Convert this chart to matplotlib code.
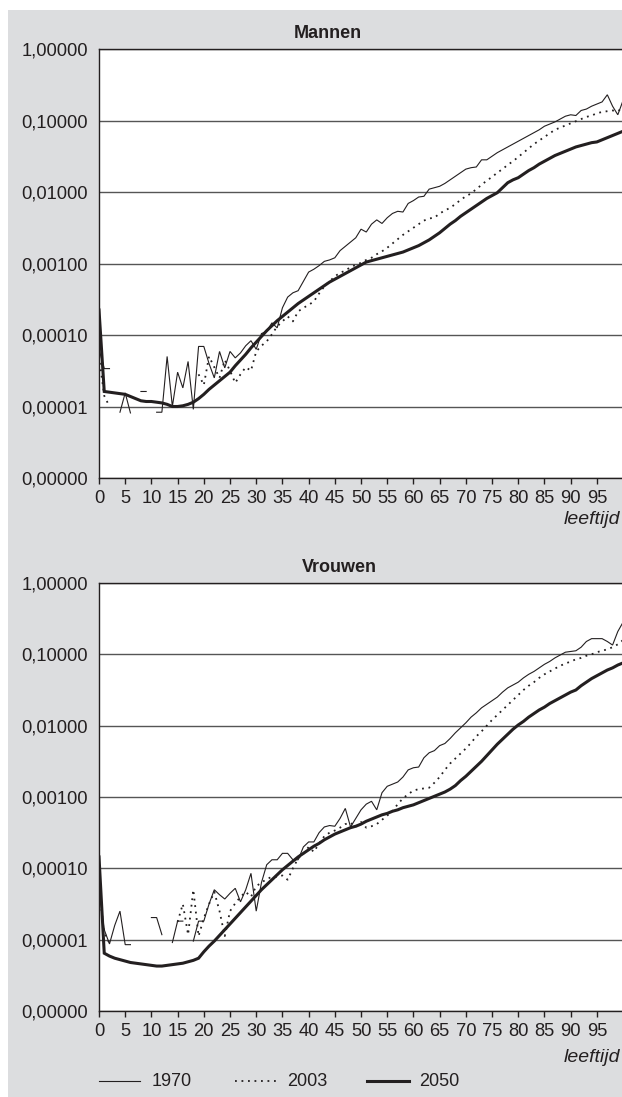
import matplotlib
matplotlib.use("Agg")
import matplotlib.pyplot as plt
import numpy as np
from matplotlib.lines import Line2D
from matplotlib.patches import Rectangle
from matplotlib.ticker import FixedLocator, FuncFormatter, NullLocator

nan = np.nan

# ages 0..100; values are log10 of the death rate
AGES = np.arange(0, 101)

MEN_1970 = [
    -4.20, -4.47, -4.47, nan, -5.08, -4.81, -5.09, nan, -4.79, -4.79,
    nan, -5.08, -5.08, -4.30, -5.00, -4.52, -4.74, -4.37, -5.04, -4.16,
    -4.16, -4.40, -4.60, -4.23, -4.46, -4.23, -4.32, -4.25, -4.15, -4.08,
    -4.20, -3.98, -3.95, -3.83, -3.90, -3.62, -3.47, -3.41, -3.38, -3.25,
    -3.12, -3.08, -3.03, -2.97, -2.95, -2.92, -2.82, -2.76, -2.70, -2.64,
    -2.52, -2.56, -2.45, -2.39, -2.44, -2.36, -2.30, -2.27, -2.28, -2.16,
    -2.12, -2.07, -2.06, -1.96, -1.94, -1.92, -1.88, -1.83, -1.78, -1.73,
    -1.68, -1.66, -1.65, -1.55, -1.55, -1.50, -1.45, -1.41, -1.37, -1.33,
    -1.29, -1.25, -1.21, -1.17, -1.13, -1.08, -1.05, -1.02, -0.98, -0.94,
    -0.92, -0.93, -0.86, -0.84, -0.80, -0.77, -0.74, -0.64, -0.80, -0.92,
    -0.72,
]
MEN_2003 = [
    -4.30, -4.85, -5.00, nan, nan, nan, nan, nan, nan, nan,
    nan, nan, nan, nan, nan, nan, nan, nan, nan, -4.55,
    -4.70, -4.30, -4.45, -4.60, -4.35, -4.50, -4.67, -4.55, -4.45, -4.50,
    -4.23, -4.15, -4.09, -3.99, -3.88, -3.81, -3.74, -3.81, -3.67, -3.62,
    -3.58, -3.53, -3.42, -3.32, -3.25, -3.18, -3.13, -3.10, -3.05, -3.02,
    -2.99, -2.95, -2.92, -2.87, -2.83, -2.78, -2.72, -2.66, -2.60, -2.55,
    -2.50, -2.45, -2.40, -2.37, -2.36, -2.30, -2.26, -2.22, -2.17, -2.11,
    -2.06, -2.02, -1.96, -1.90, -1.84, -1.79, -1.73, -1.68, -1.62, -1.57,
    -1.51, -1.45, -1.39, -1.33, -1.28, -1.23, -1.18, -1.13, -1.10, -1.07,
    -1.04, -1.01, -0.98, -0.95, -0.93, -0.90, -0.88, -0.87, -0.86, -0.87,
    -0.82,
]
MEN_2050 = [
    -3.65, -4.79, -4.80, -4.81, -4.82, -4.83, -4.86, -4.89, -4.92, -4.93,
    -4.93, -4.94, -4.95, -4.97, -5.00, -5.00, -4.99, -4.97, -4.94, -4.89,
    -4.83, -4.76, -4.70, -4.64, -4.58, -4.52, -4.43, -4.35, -4.27, -4.18,
    -4.10, -4.02, -3.94, -3.87, -3.80, -3.74, -3.68, -3.62, -3.56, -3.51,
    -3.46, -3.41, -3.36, -3.31, -3.26, -3.22, -3.18, -3.14, -3.10, -3.06,
    -3.02, -2.98, -2.96, -2.94, -2.92, -2.90, -2.88, -2.86, -2.84, -2.81,
    -2.78, -2.75, -2.71, -2.67, -2.62, -2.57, -2.51, -2.45, -2.40, -2.34,
    -2.29, -2.24, -2.19, -2.14, -2.09, -2.05, -2.01, -1.94, -1.87, -1.83,
    -1.80, -1.75, -1.70, -1.66, -1.61, -1.57, -1.53, -1.49, -1.46, -1.43,
    -1.40, -1.37, -1.35, -1.33, -1.31, -1.30, -1.27, -1.24, -1.21, -1.18,
    -1.15,
]

WOMEN_1970 = [
    -4.30, -4.86, -5.06, -4.80, -4.60, -5.07, -5.07, nan, nan, nan,
    -4.69, -4.69, -4.93, nan, -5.04, -4.74, -4.74, nan, -5.02, -4.74,
    -4.74, -4.50, -4.30, -4.37, -4.43, -4.35, -4.28, -4.47, -4.30, -4.07,
    -4.60, -4.20, -3.95, -3.88, -3.88, -3.79, -3.79, -3.88, -3.88, -3.70,
    -3.63, -3.63, -3.50, -3.42, -3.40, -3.41, -3.30, -3.16, -3.42, -3.30,
    -3.18, -3.10, -3.06, -3.18, -2.94, -2.85, -2.82, -2.79, -2.72, -2.62,
    -2.59, -2.58, -2.45, -2.38, -2.35, -2.28, -2.25, -2.18, -2.10, -2.03,
    -1.96, -1.88, -1.82, -1.75, -1.70, -1.65, -1.60, -1.53, -1.47, -1.43,
    -1.39, -1.33, -1.28, -1.24, -1.19, -1.14, -1.10, -1.05, -1.01, -0.97,
    -0.96, -0.95, -0.90, -0.82, -0.78, -0.78, -0.78, -0.82, -0.87, -0.68,
    -0.55,
]
WOMEN_2003 = [
    -4.30, -4.90, -5.05, nan, nan, nan, nan, nan, nan, nan,
    nan, nan, nan, nan, nan, -4.75, -4.50, -4.93, -4.30, -4.95,
    -4.70, -4.50, -4.33, -4.60, -4.95, -4.60, -4.49, -4.40, -4.33, -4.40,
    -4.25, -4.20, -4.15, -4.12, -4.12, -4.10, -4.16, -4.00, -3.86, -3.80,
    -3.70, -3.77, -3.65, -3.55, -3.50, -3.47, -3.43, -3.38, -3.36, -3.42,
    -3.35, -3.43, -3.41, -3.38, -3.32, -3.26, -3.20, -3.10, -3.02, -2.96,
    -2.91, -2.89, -2.88, -2.87, -2.80, -2.72, -2.62, -2.53, -2.46, -2.39,
    -2.32, -2.24, -2.15, -2.08, -2.00, -1.92, -1.85, -1.78, -1.71, -1.64,
    -1.57, -1.50, -1.44, -1.39, -1.33, -1.28, -1.24, -1.20, -1.16, -1.13,
    -1.10, -1.07, -1.05, -1.02, -1.00, -0.97, -0.95, -0.93, -0.90, -0.86,
    -0.80,
]
WOMEN_2050 = [
    -3.84, -5.19, -5.23, -5.26, -5.28, -5.30, -5.32, -5.33, -5.34, -5.35,
    -5.36, -5.37, -5.37, -5.36, -5.35, -5.34, -5.33, -5.31, -5.29, -5.26,
    -5.17, -5.09, -5.02, -4.94, -4.86, -4.78, -4.70, -4.62, -4.54, -4.46,
    -4.38, -4.30, -4.23, -4.16, -4.09, -4.02, -3.96, -3.90, -3.84, -3.79,
    -3.74, -3.69, -3.65, -3.60, -3.56, -3.52, -3.49, -3.46, -3.43, -3.41,
    -3.38, -3.34, -3.31, -3.28, -3.25, -3.23, -3.20, -3.18, -3.15, -3.13,
    -3.11, -3.08, -3.05, -3.02, -2.99, -2.96, -2.93, -2.89, -2.84, -2.77,
    -2.71, -2.64, -2.57, -2.50, -2.42, -2.34, -2.26, -2.19, -2.12, -2.05,
    -1.99, -1.94, -1.88, -1.83, -1.78, -1.74, -1.69, -1.65, -1.61, -1.57,
    -1.53, -1.50, -1.44, -1.39, -1.34, -1.30, -1.26, -1.22, -1.19, -1.15,
    -1.12,
]

YEARS = ["1970", "2003", "2050"]
Y_TICKS = [1e-6, 1e-5, 1e-4, 1e-3, 1e-2, 1e-1, 1.0]
X_TICKS = list(range(0, 100, 5))

INK = "#231f20"
GRAY = "#dcdddf"
STYLES = {
    "1970": dict(color=INK, lw=0.8, ls="-"),
    "2003": dict(color=INK, lw=1.3, ls=(0, (1, 2.6))),
    "2050": dict(color=INK, lw=2.2, ls="-"),
}

plt.rcParams["font.family"] = ["Liberation Sans", "DejaVu Sans"]

W, H = 622, 1097


def fx(px):
    return px / W


def fy(py):
    return 1 - py / H


def dutch(v, pos):
    return f"{v:.5f}".replace(".", ",")


def draw_panel(ax, series):
    for year, vals in zip(YEARS, series):
        ax.plot(AGES, np.power(10.0, np.array(vals)), **STYLES[year], solid_joinstyle="miter")
    ax.set_yscale("log")
    ax.set_ylim(1e-6, 1.0)
    ax.set_xlim(0, 99.8)
    ax.yaxis.set_major_locator(FixedLocator(Y_TICKS))
    ax.yaxis.set_minor_locator(NullLocator())
    ax.yaxis.set_major_formatter(FuncFormatter(dutch))
    ax.set_xticks(X_TICKS)
    ax.tick_params(axis="y", length=0, pad=8, labelsize=13.2, labelcolor=INK)
    ax.tick_params(axis="x", length=4, width=1, color=INK, pad=4.5, labelsize=13.2, labelcolor=INK)
    ax.grid(axis="y", color="#555555", lw=1)
    ax.set_axisbelow(True)
    ax.spines["right"].set_visible(False)
    for s in ("left", "bottom", "top"):
        ax.spines[s].set_color(INK)
        ax.spines[s].set_linewidth(1)
    ax.set_facecolor("white")


fig = plt.figure(figsize=(W / 100, H / 100), dpi=100)
fig.patch.set_facecolor("white")
fig.add_artist(Rectangle((fx(8), 0), 1, fy(10), transform=fig.transFigure,
                         facecolor=GRAY, edgecolor="none", zorder=-10))

ax_m = fig.add_axes([fx(99), fy(478), 1 - fx(99), (478 - 49) / H])
ax_f = fig.add_axes([fx(99), fy(1011), 1 - fx(99), (1011 - 583) / H])

draw_panel(ax_m, [MEN_1970, MEN_2003, MEN_2050])
draw_panel(ax_f, [WOMEN_1970, WOMEN_2003, WOMEN_2050])

fig.text(fx(328), fy(33), "Mannen", ha="center", va="center", fontsize=13, fontweight="bold", color=INK)
fig.text(fx(339), fy(568), "Vrouwen", ha="center", va="center", fontsize=13, fontweight="bold", color=INK)
fig.text(fx(620), fy(520), "leeftijd", ha="right", va="center", fontsize=14, style="italic", color=INK)
fig.text(fx(620), fy(1057), "leeftijd", ha="right", va="center", fontsize=14, style="italic", color=INK)

# legend drawn by hand along the bottom
leg_y = fy(1081)
for year, (x0, x1, xt) in zip(YEARS, [(99, 140, 152), (235, 277, 287), (367, 409, 419)]):
    fig.add_artist(Line2D([fx(x0), fx(x1)], [leg_y, leg_y], transform=fig.transFigure, **STYLES[year]))
    fig.text(fx(xt), leg_y, year, ha="left", va="center", fontsize=13, color=INK)

fig.savefig("out.png", dpi=100, facecolor="white")
